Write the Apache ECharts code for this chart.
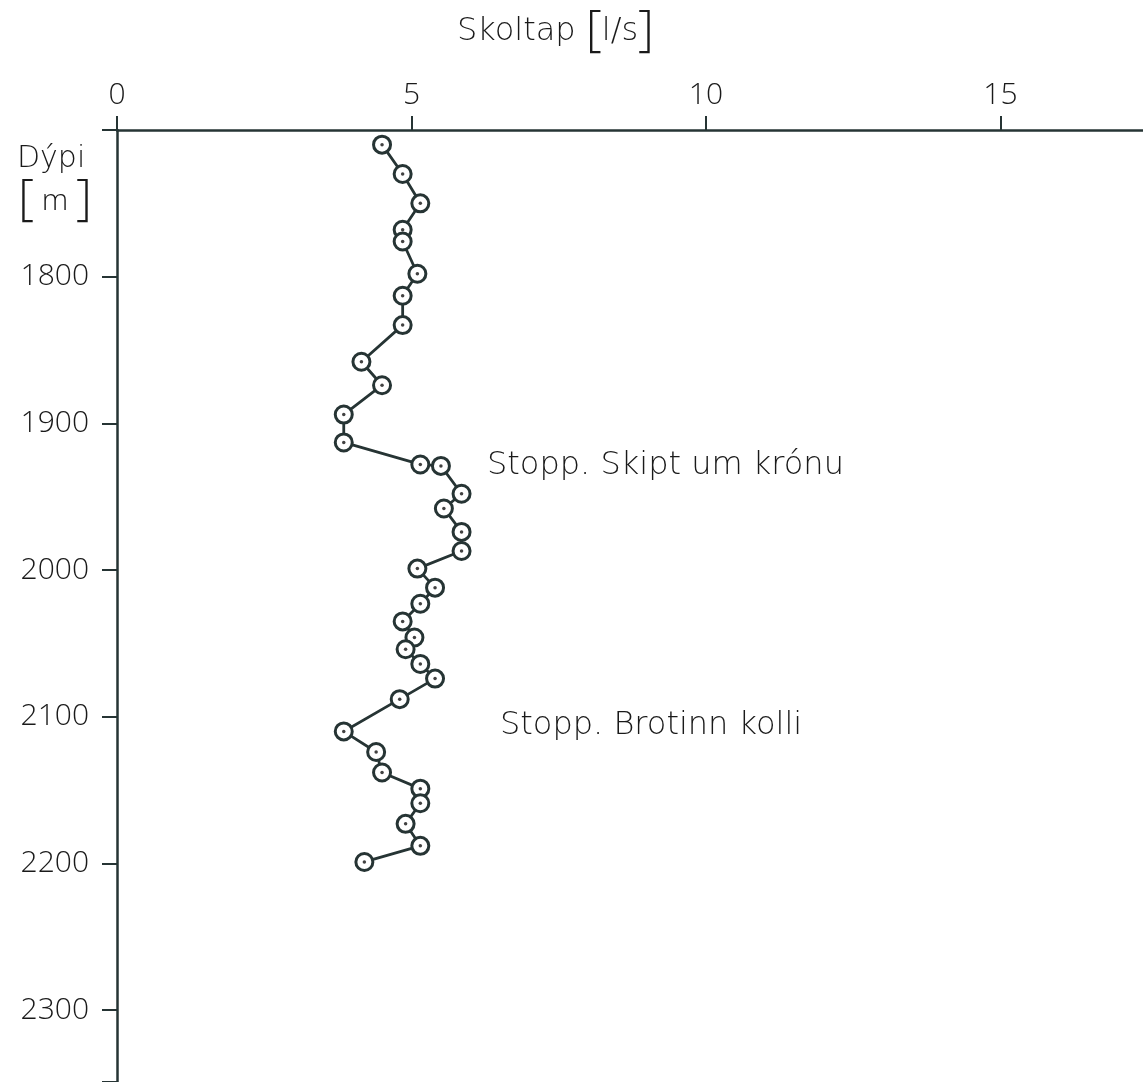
<!DOCTYPE html>
<html>
<head>
<meta charset="utf-8">
<title>Skoltap</title>
<script src="https://cdn.jsdelivr.net/npm/echarts@6/dist/echarts.min.js"></script>
<style>
  html, body { margin: 0; padding: 0; background: #ffffff; }
  #chart { width: 1143px; height: 1082px; }
</style>
</head>
<body>
<div id="chart"></div>
<script>
// Drilling depth (m) and flushing loss (l/s) at each measurement
const depth = [1710, 1730, 1750, 1768, 1776, 1798, 1813, 1833, 1858, 1874,
               1894, 1913, 1928, 1929, 1948, 1958, 1974, 1987, 1999, 2012,
               2023, 2035, 2046, 2054, 2064, 2074, 2088, 2110, 2124, 2138,
               2149, 2159, 2173, 2188, 2199];
const flow = [4.5, 4.85, 5.15, 4.85, 4.85, 5.1, 4.85, 4.85, 4.15, 4.5,
              3.85, 3.85, 5.15, 5.5, 5.85, 5.55, 5.85, 5.85, 5.1, 5.4,
              5.15, 4.85, 5.05, 4.9, 5.15, 5.4, 4.8, 3.85, 4.4, 4.5,
              5.15, 5.15, 4.9, 5.15, 4.2];
const flowTicks = [0, 5, 10, 15];
const depthTicks = [1800, 1900, 2000, 2100, 2200, 2300];

const INK = '#263434';
const TEXT = '#1a1a1a';
const FONT = '"Open Sans", "DejaVu Sans", sans-serif';
const WIDE = '"DejaVu Sans", "Open Sans", sans-serif';
const W = 300;

const points = flow.map((v, i) => [v, depth[i]]);

const chart = echarts.init(document.getElementById('chart'), null, { renderer: 'canvas' });
chart.setOption({
  animation: false,
  backgroundColor: '#ffffff',
  grid: { left: 117, top: 130, right: 0, bottom: 0, containLabel: false },
  title: {
    text: '{t|Skoltap }{b|[}{t|l/s}{b|]}',
    left: 452, top: 2,
    textStyle: {
      rich: {
        t: { fontFamily: WIDE, fontWeight: 200, fontSize: 32, color: TEXT },
        b: { fontFamily: FONT, fontWeight: 200, fontSize: 50, color: TEXT }
      }
    }
  },
  xAxis: {
    type: 'value', position: 'top',
    min: 0, max: 17.42, interval: 5,
    axisLine: { show: true, lineStyle: { color: INK, width: 2.5 } },
    axisTick: { show: true, inside: false, length: 14, lineStyle: { color: INK, width: 2 },
                customValues: flowTicks },
    axisLabel: { margin: 20, fontFamily: FONT, fontWeight: W, fontSize: 30, color: TEXT,
                 customValues: flowTicks },
    splitLine: { show: false }
  },
  yAxis: {
    type: 'value', inverse: true,
    min: 1700, max: 2349, interval: 100,
    axisLine: { show: true, lineStyle: { color: INK, width: 2.5 } },
    axisTick: { show: true, inside: false, length: 15, lineStyle: { color: INK, width: 2 } },
    axisLabel: {
      margin: 28, fontFamily: FONT, fontWeight: W, fontSize: 30, color: TEXT,
      formatter: v => (depthTicks.indexOf(v) >= 0 ? String(v) : '')
    },
    splitLine: { show: false }
  },
  graphic: [
    { type: 'text', left: 17, top: 144,
      style: { text: 'Dýpi', fontFamily: WIDE, fontWeight: 200, fontSize: 30, fill: TEXT } },
    { type: 'text', left: 18, top: 176,
      style: { text: '{b|[}{t| m }{b|]}', fill: TEXT,
               rich: { t: { fontFamily: FONT, fontWeight: W, fontSize: 30, fill: TEXT },
                       b: { fontFamily: FONT, fontWeight: 200, fontSize: 50, fill: TEXT } } } },
    { type: 'text', left: 487, top: 450,
      style: { text: 'Stopp. Skipt um krónu', fontFamily: WIDE, fontWeight: 200, fontSize: 32,
               fill: TEXT } },
    { type: 'text', left: 500, top: 710,
      style: { text: 'Stopp. Brotinn kolli', fontFamily: WIDE, fontWeight: 200, fontSize: 32,
               fill: TEXT } }
  ],
  series: [
    {
      type: 'line',
      data: points,
      symbol: 'circle', symbolSize: 17,
      lineStyle: { color: INK, width: 2.8 },
      itemStyle: { color: '#ffffff', borderColor: INK, borderWidth: 3 },
      z: 2
    },
    {
      type: 'scatter',
      data: points,
      symbol: 'circle', symbolSize: 3.5,
      itemStyle: { color: '#111111' },
      z: 3
    }
  ]
});
</script>
</body>
</html>
